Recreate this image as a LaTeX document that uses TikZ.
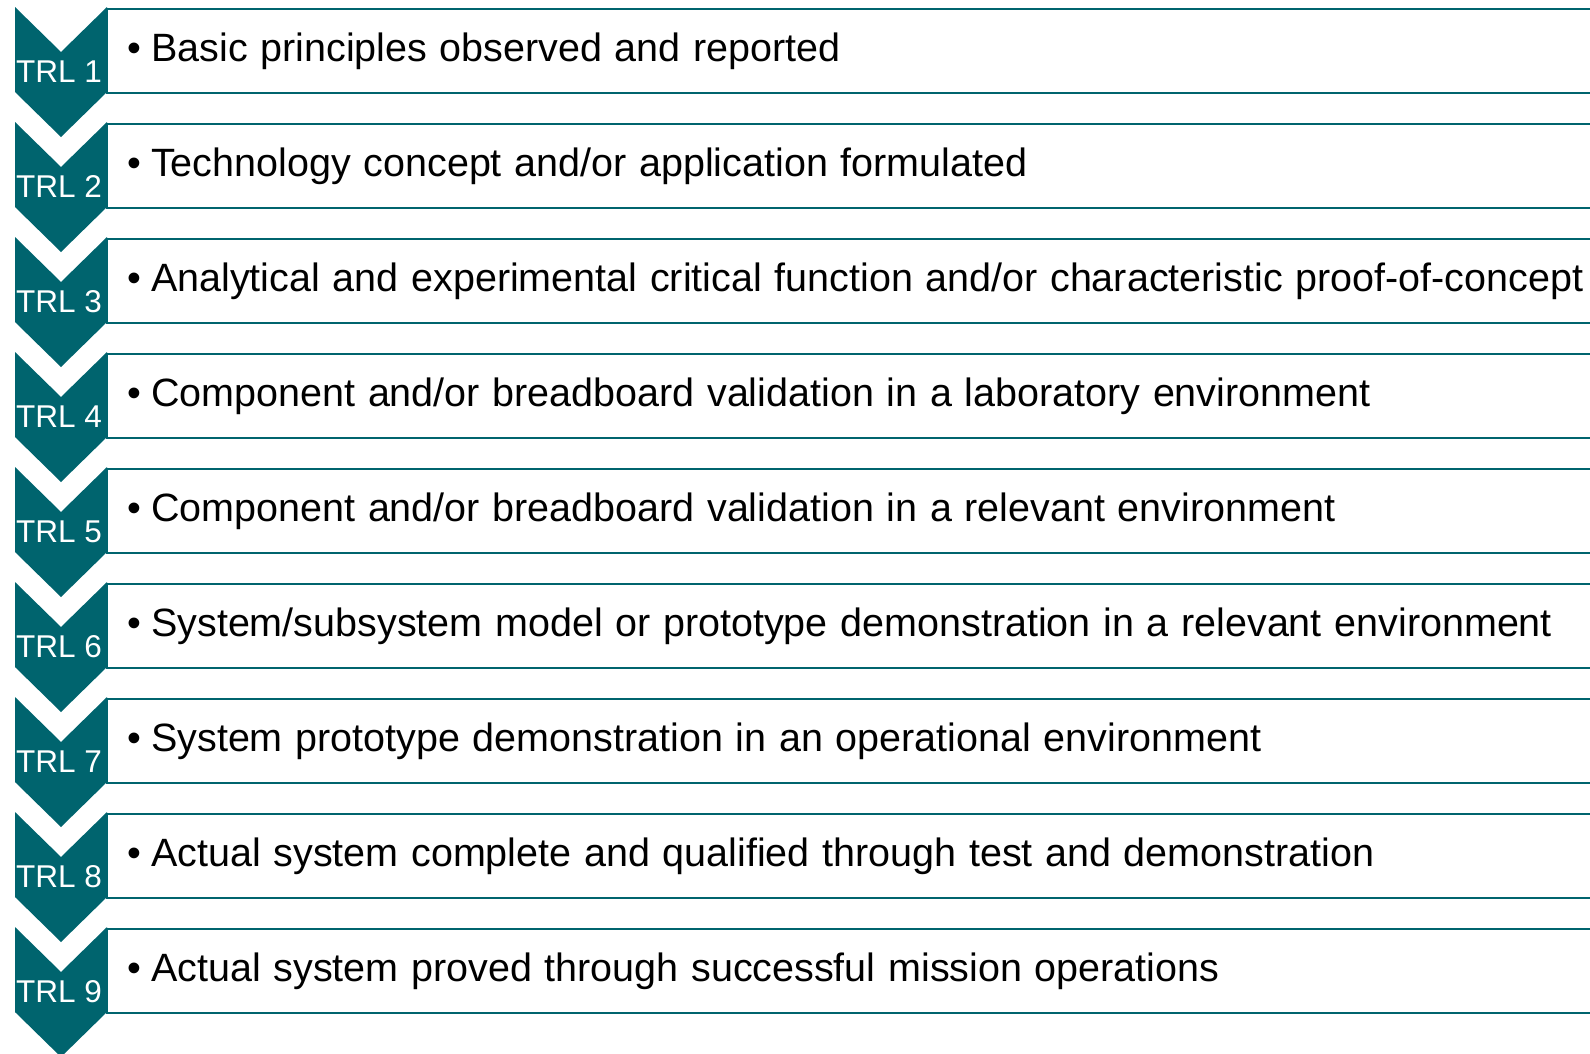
\documentclass[tikz,border=0pt]{standalone}
\usepackage{fontspec}
\setmainfont{Liberation Sans}
\definecolor{trlteal}{RGB}{0,100,110}
\newcommand{\trlrow}[2]{%
  \pgfmathsetmacro{\rowtop}{7+115*(#1-1)}%
  \fill[chev] (15,\rowtop) -- (61,\rowtop+45) -- (107,\rowtop) -- (107,\rowtop+85) -- (61,\rowtop+130) -- (15,\rowtop+85) -- cycle;
  \draw[rowbox] (107,\rowtop+2) rectangle (1610,\rowtop+86);
  \node[trllabel] (trl#1) at (16,\rowtop+75) {TRL #1};
  \node[bulletmark] (bul#1) at (127,\rowtop+54) {•};
  \node[rowtext] (txt#1) at (151,\rowtop+54) {\spaceskip=0.32em plus 0.1em\relax #2};
}
\begin{document}
\begin{tikzpicture}[x=1pt,y=-1pt,
  chev/.style={fill=trlteal,draw=none},
  rowbox/.style={draw=trlteal,line width=2.6pt,fill=white},
  trllabel/.style={anchor=base west,inner sep=0pt,text=white,font=\fontsize{31.5}{36}\selectfont},
  bulletmark/.style={anchor=base west,inner sep=0pt,font=\fontsize{39.5}{46}\selectfont},
  rowtext/.style={anchor=base west,inner sep=0pt,font=\fontsize{39.5}{46}\selectfont}]
\useasboundingbox (0,0) rectangle (1590,1053);
\clip (0,0) rectangle (1590,1053);
\trlrow{1}{Basic principles observed and reported}
\trlrow{2}{Technology concept and/or application formulated}
\trlrow{3}{Analytical and experimental critical function and/or characteristic proof-of-concept}
\trlrow{4}{Component and/or breadboard validation in a laboratory environment}
\trlrow{5}{Component and/or breadboard validation in a relevant environment}
\trlrow{6}{System/subsystem model or prototype demonstration in a relevant environment}
\trlrow{7}{System prototype demonstration in an operational environment}
\trlrow{8}{Actual system complete and qualified through test and demonstration}
\trlrow{9}{Actual system proved through successful mission operations}
\end{tikzpicture}
\end{document}
